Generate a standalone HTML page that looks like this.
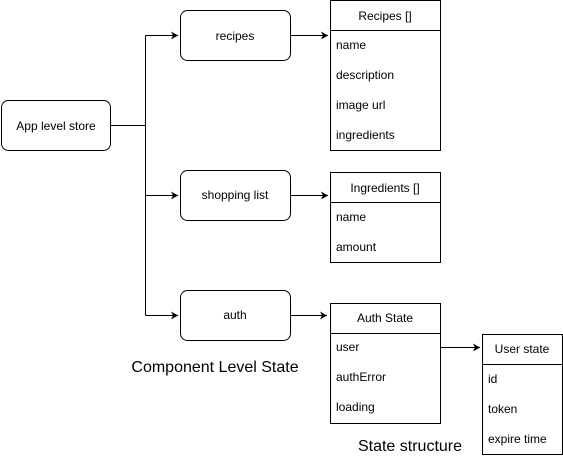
<!DOCTYPE html>
<html><head><style>html,body{margin:0;padding:0;background:#fff}svg{display:block}</style></head>
<body>
<svg width="563" height="461" xmlns="http://www.w3.org/2000/svg" font-family="Liberation Sans, sans-serif" font-size="12" fill="#000">
<defs><marker id="a" markerWidth="8" markerHeight="8" refX="7" refY="4" orient="auto" markerUnits="userSpaceOnUse"><path d="M0,0 L7,4 L0,8 L2,4 z" fill="#000"/></marker></defs>
<g fill="none" stroke="#000" stroke-width="1">
<rect x="1.5" y="100.5" width="109" height="50" rx="7"/>
<rect x="180.5" y="10.5" width="110" height="50" rx="7"/>
<rect x="180.5" y="170.5" width="110" height="50" rx="7"/>
<rect x="180.5" y="290.5" width="110" height="50" rx="7"/>
<path d="M110.5,125.5 H145.5"/>
<path d="M145.5,35.5 V315.5"/>
<path d="M145.5,35.5 H178" marker-end="url(#a)"/>
<path d="M145.5,195.5 H178" marker-end="url(#a)"/>
<path d="M145.5,315.5 H178" marker-end="url(#a)"/>
<path d="M290.5,35.5 H328" marker-end="url(#a)"/>
<path d="M290.5,195.5 H328" marker-end="url(#a)"/>
<path d="M290.5,315.5 H327" marker-end="url(#a)"/>
<path d="M440.5,347.5 H480" marker-end="url(#a)"/>
<rect x="330.5" y="0.5" width="110" height="150"/><path d="M330.5,30.5 H440.5"/>
<rect x="330.5" y="172.5" width="110" height="90"/><path d="M330.5,202.5 H440.5"/>
<rect x="330.5" y="303.5" width="110" height="120"/><path d="M330.5,333.5 H440.5"/>
<rect x="482.5" y="334.5" width="80" height="120"/><path d="M482.5,364.5 H562.5"/>
</g>
<g text-anchor="middle">
<text x="56" y="130">App level store</text>
<text x="235" y="40">recipes</text>
<text x="235" y="199">shopping list</text>
<text x="235" y="319">auth</text>
<text x="385" y="20">Recipes []</text>
<text x="385" y="192">Ingredients []</text>
<text x="385" y="322">Auth State</text>
<text x="522" y="353">User state</text>
<text x="215" y="372" font-size="16">Component Level State</text>
<text x="410" y="451" font-size="16">State structure</text>
</g>
<text x="336" y="49">name</text>
<text x="336" y="79">description</text>
<text x="336" y="109">image url</text>
<text x="336" y="139">ingredients</text>
<text x="336" y="221">name</text>
<text x="336" y="251">amount</text>
<text x="336" y="351">user</text>
<text x="336" y="381">authError</text>
<text x="336" y="411">loading</text>
<text x="488" y="383">id</text>
<text x="488" y="413">token</text>
<text x="488" y="443">expire time</text>
</svg>
</body></html>
